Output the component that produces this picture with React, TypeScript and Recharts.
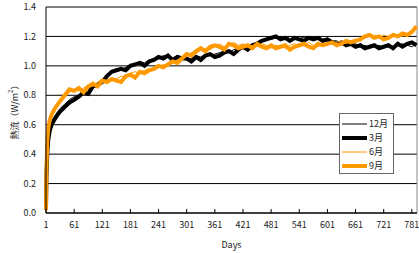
import React from 'react';
import {
  LineChart,
  Line,
  XAxis,
  YAxis,
  CartesianGrid,
  Legend,
  ReferenceLine,
} from 'recharts';

const DAYS = [
  1, 2, 4, 6, 9, 13, 18, 24, 31,
  41, 51, 61, 71, 81, 91, 101, 111, 121, 131,
  141, 151, 161, 171, 181, 191, 201, 211, 221, 231,
  241, 251, 261, 271, 281, 291, 301, 311, 321, 331,
  341, 351, 361, 371, 381, 391, 401, 411, 421, 431,
  441, 451, 461, 471, 481, 491, 501, 511, 521, 531,
  541, 551, 561, 571, 581, 591, 601, 611, 621, 631,
  641, 651, 661, 671, 681, 691, 701, 711, 721, 731,
  741, 751, 761, 771, 781, 791,
];

const DEC = [
  0.10, 0.30, 0.45, 0.52, 0.58, 0.62, 0.65, 0.68, 0.71,
  0.74, 0.77, 0.79, 0.80, 0.83, 0.84, 0.85, 0.88, 0.90, 0.92,
  0.95, 0.98, 0.97, 0.99, 1.01, 1.00, 1.03, 1.02, 1.04, 1.05,
  1.05, 1.07, 1.06, 1.05, 1.07, 1.06, 1.04, 1.05, 1.07, 1.06,
  1.08, 1.07, 1.08, 1.09, 1.10, 1.09, 1.11, 1.12, 1.12, 1.13,
  1.15, 1.16, 1.16, 1.18, 1.18, 1.19, 1.20, 1.18, 1.20, 1.19,
  1.20, 1.19, 1.20, 1.19, 1.20, 1.18, 1.19, 1.17, 1.17, 1.15,
  1.16, 1.14, 1.15, 1.13, 1.14, 1.12, 1.13, 1.14, 1.12, 1.15,
  1.13, 1.14, 1.15, 1.14, 1.13, 1.15,
];

const MAR = [
  0.05, 0.25, 0.42, 0.50, 0.56, 0.60, 0.63, 0.66, 0.69,
  0.72, 0.75, 0.77, 0.79, 0.82, 0.81, 0.86, 0.87, 0.89, 0.93,
  0.96, 0.97, 0.98, 0.97, 1.00, 1.01, 1.02, 1.00, 1.03, 1.04,
  1.06, 1.05, 1.07, 1.04, 1.06, 1.05, 1.05, 1.03, 1.06, 1.04,
  1.07, 1.08, 1.06, 1.07, 1.09, 1.10, 1.08, 1.11, 1.13, 1.11,
  1.14, 1.15, 1.17, 1.18, 1.19, 1.20, 1.18, 1.19, 1.17, 1.19,
  1.18, 1.17, 1.19, 1.18, 1.19, 1.17, 1.18, 1.16, 1.15, 1.16,
  1.14, 1.15, 1.13, 1.14, 1.12, 1.13, 1.14, 1.12, 1.13, 1.14,
  1.12, 1.15, 1.13, 1.15, 1.16, 1.14,
];

const JUN = [
  0.00, 0.28, 0.48, 0.57, 0.62, 0.66, 0.71, 0.74, 0.77,
  0.79, 0.82, 0.84, 0.83, 0.85, 0.87, 0.86, 0.89, 0.91, 0.90,
  0.92, 0.91, 0.93, 0.92, 0.95, 0.96, 0.95, 0.97, 0.98, 0.97,
  0.99, 1.01, 1.00, 1.02, 1.04, 1.06, 1.07, 1.09, 1.08, 1.11,
  1.12, 1.11, 1.13, 1.15, 1.13, 1.14, 1.16, 1.14, 1.15, 1.13,
  1.14, 1.13, 1.15, 1.14, 1.12, 1.14, 1.13, 1.12, 1.14, 1.15,
  1.13, 1.14, 1.16, 1.14, 1.13, 1.15, 1.16, 1.15, 1.16, 1.17,
  1.15, 1.17, 1.18, 1.17, 1.19, 1.20, 1.21, 1.19, 1.21, 1.20,
  1.22, 1.21, 1.20, 1.22, 1.24, 1.25,
];

const SEP = [
  0.02, 0.30, 0.50, 0.58, 0.63, 0.67, 0.70, 0.73, 0.76,
  0.80, 0.84, 0.83, 0.85, 0.82, 0.86, 0.88, 0.86, 0.90, 0.89,
  0.91, 0.90, 0.89, 0.93, 0.94, 0.92, 0.96, 0.95, 0.97, 0.98,
  1.00, 0.99, 1.01, 1.03, 1.02, 1.05, 1.08, 1.07, 1.10, 1.12,
  1.10, 1.13, 1.14, 1.13, 1.11, 1.15, 1.14, 1.12, 1.13, 1.14,
  1.12, 1.15, 1.13, 1.12, 1.14, 1.12, 1.13, 1.14, 1.11, 1.13,
  1.14, 1.15, 1.13, 1.12, 1.15, 1.14, 1.15, 1.16, 1.14, 1.15,
  1.17, 1.16, 1.17, 1.18, 1.20, 1.21, 1.19, 1.20, 1.18, 1.19,
  1.21, 1.20, 1.22, 1.21, 1.23, 1.27,
];

const X_TICKS = [1, 61, 121, 181, 241, 301, 361, 421, 481, 541, 601, 661, 721, 781];
const Y_TICKS = [0, 0.2, 0.4, 0.6, 0.8, 1.0, 1.2, 1.4];

const SERIES = [
  { key: 'dec', name: '12月', color: '#000000', width: 1 },
  { key: 'mar', name: '3月', color: '#000000', width: 4 },
  { key: 'jun', name: '6月', color: '#FF9900', width: 1 },
  { key: 'sep', name: '9月', color: '#FF9900', width: 4 },
];

const chartData = DAYS.map((day, i) => ({
  day,
  dec: DEC[i],
  mar: MAR[i],
  jun: JUN[i],
  sep: SEP[i],
}));

const FONT = '"Noto Sans CJK JP", "Liberation Sans", sans-serif';

const renderLegend = () => (
  <div
    style={{
      border: '1px solid #666',
      background: '#fff',
      padding: '3px 2px 2px 2px',
      fontFamily: FONT,
      fontSize: 9,
      color: '#222',
      lineHeight: '14px',
      boxSizing: 'border-box',
      width: 55,
      height: 61,
    }}
  >
    {SERIES.map((s) => (
      <div key={s.key} style={{ display: 'flex', alignItems: 'center', height: 14 }}>
        <svg width={25} height={6} style={{ marginRight: 2 }}>
          <line x1={0} y1={3} x2={25} y2={3} stroke={s.color} strokeWidth={s.width} />
        </svg>
        <span>{s.name}</span>
      </div>
    ))}
  </div>
);

const YLabel = (props: any) => {
  const { viewBox } = props;
  const cx = 14;
  const cy = viewBox.y + viewBox.height / 2;
  return (
    <text
      x={cx}
      y={cy}
      transform={`rotate(-90, ${cx}, ${cy})`}
      textAnchor="middle"
      dominantBaseline="central"
      fontSize={9}
      fontFamily={FONT}
      fill="#222"
    >
      熱流（W/m
      <tspan dy={-4} fontSize={6}>2</tspan>
      <tspan dy={4}>）</tspan>
    </text>
  );
};

export default function App() {
  return (
    <div style={{ position: 'absolute', left: 0, top: 0, width: 419, height: 253, background: '#fff' }}>
      <LineChart
        width={419}
        height={253}
        data={chartData}
        margin={{ top: 7, right: 2, bottom: 0, left: 0 }}
      >
        <CartesianGrid horizontal vertical={false} stroke="#000" strokeWidth={1} />
        <XAxis
          dataKey="day"
          type="number"
          domain={[1, 792]}
          ticks={X_TICKS}
          interval={0}
          height={40}
          tickSize={-4}
          tickMargin={13}
          stroke="#000"
          tick={{ fontSize: 9, fontFamily: FONT, fill: '#222' }}
          label={{
            value: 'Days',
            position: 'insideBottom',
            offset: 5,
            fontSize: 9,
            fontFamily: FONT,
            fill: '#222',
          }}
        />
        <YAxis
          type="number"
          domain={[0, 1.4]}
          ticks={Y_TICKS}
          width={46}
          tickLine={false}
          tickMargin={4}
          stroke="#000"
          tickFormatter={(v: number) => v.toFixed(1)}
          tick={{ fontSize: 9, fontFamily: FONT, fill: '#222' }}
          label={<YLabel />}
        />
        <ReferenceLine x={792} stroke="#888" />
        {SERIES.map((s) => (
          <Line
            key={s.key}
            type="linear"
            dataKey={s.key}
            name={s.name}
            stroke={s.color}
            strokeWidth={s.width}
            dot={false}
            isAnimationActive={false}
          />
        ))}
        <Legend
          content={renderLegend}
          layout="vertical"
          align="center"
          verticalAlign="middle"
          wrapperStyle={{ position: 'absolute', left: 339, top: 113, width: 55, height: 61 }}
        />
      </LineChart>
    </div>
  );
}
